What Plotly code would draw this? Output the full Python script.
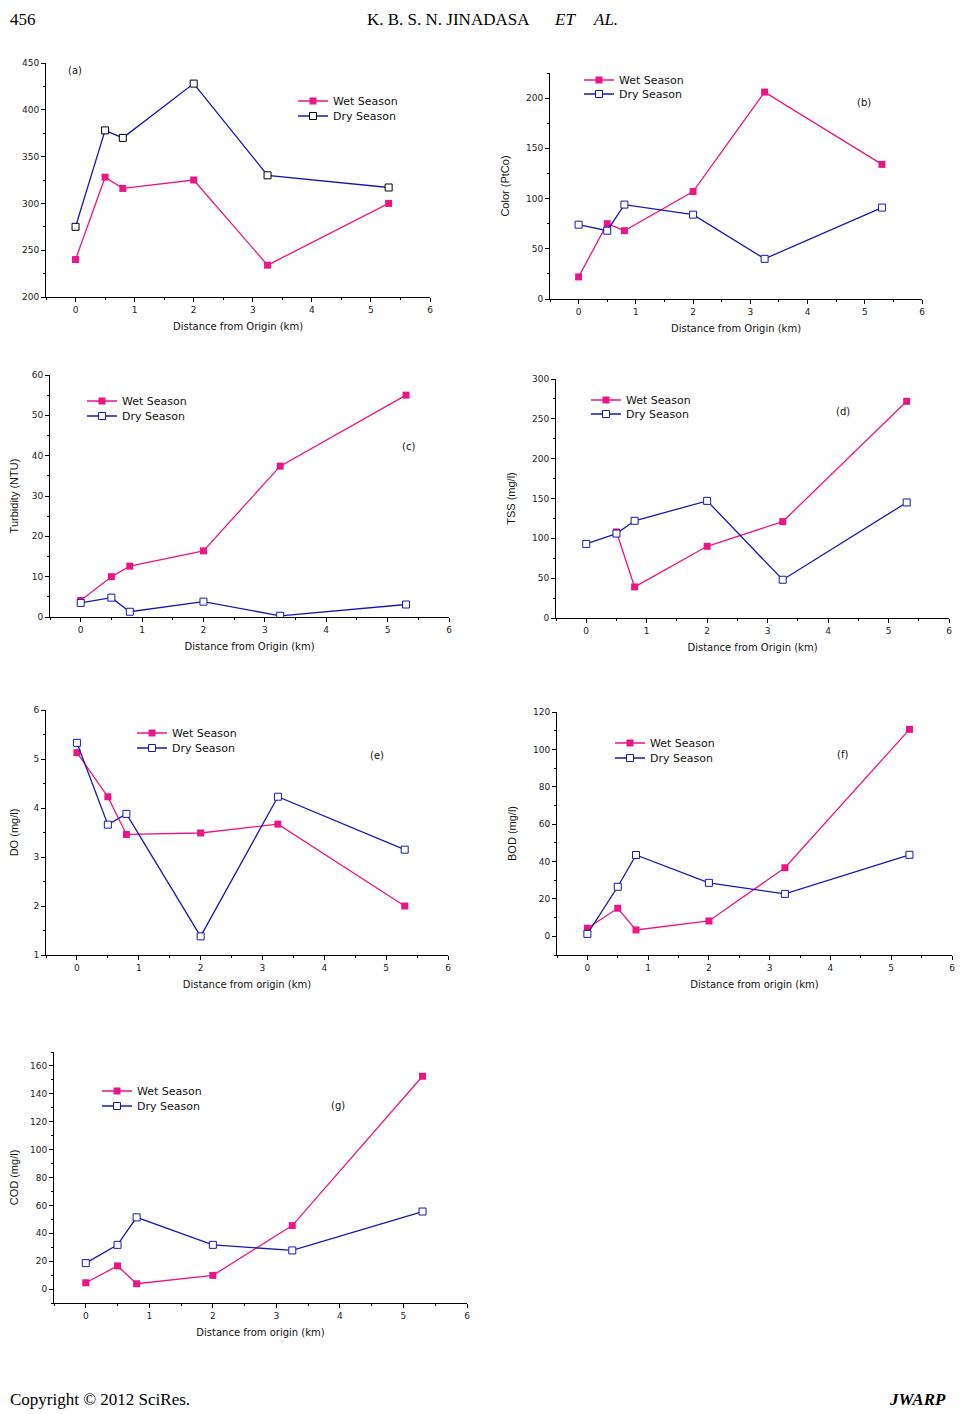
import plotly.graph_objects as go

W, H = 965, 1414
OFF = 8  # the page body margin shifts the figure by this much
FW, FH = W - OFF, H - OFF

# distance of sampling points from origin (km)
distance = [0, 0.5, 0.8, 2, 3.25, 5.3]

# (a) no y label in the source
a_wet = [240, 328, 316, 325, 234, 300]
a_dry = [275, 378, 370, 428, 330, 317]

# (b) colour (PtCo)
b_wet = [22, 75, 68, 107, 206, 134]
b_dry = [74, 68, 94, 84, 40, 91]

# (c) turbidity (NTU)
c_wet = [4.1, 10, 12.6, 16.4, 37.4, 55]
c_dry = [3.5, 4.8, 1.3, 3.8, 0.3, 3.1]

# (d) TSS (mg/l) - no wet value at the origin
d_wet = [None, 108, 39, 90, 121, 272]
d_dry = [93, 106, 122, 147, 48, 145]

# (e) DO (mg/l)
e_wet = [5.13, 4.23, 3.46, 3.49, 3.67, 2.0]
e_dry = [5.33, 3.66, 3.88, 1.38, 4.23, 3.15]

# (f) BOD (mg/l)
f_wet = [4.3, 15.0, 3.4, 8.2, 36.7, 110.7]
f_dry = [1.3, 26.5, 43.5, 28.6, 22.7, 43.6]

# (g) COD (mg/l)
g_wet = [4.5, 16.6, 3.8, 9.8, 45.5, 152.6]
g_dry = [18.6, 31.7, 51.4, 31.7, 27.7, 55.6]

WET = "#EC1585"
DRY = "#1818B0"


def fx(p):
    return (p - OFF) / FW


def fy(p):
    return 1 - (p - OFF) / FH


# key, wet, dry, y title, x title, y range, y dtick, plot box (x0, x1, ytop, ybottom),
# legend (line start x, wet row y, dry row y), panel label position
panels = [
    ("a", a_wet, a_dry, "", "Distance from Origin (km)", [200, 450], 50,
     (46, 430, 63, 297), (300, 101, 116), (75, 70)),
    ("b", b_wet, b_dry, "Color (PtCo)", "Distance from Origin (km)", [0, 225], 50,
     (550, 922, 73, 299), (586, 80, 94), (864, 102)),
    ("c", c_wet, c_dry, "Turbidity (NTU)", "Distance from Origin (km)", [0, 60], 10,
     (50, 449, 375, 617), (89, 401, 416), (408, 446)),
    ("d", d_wet, d_dry, "TSS (mg/l)", "Distance from Origin (km)", [0, 300], 50,
     (556, 949, 379, 618), (593, 400, 414), (843, 411)),
    ("e", e_wet, e_dry, "DO (mg/l)", "Distance from origin (km)", [1, 6], 1,
     (46, 448, 710, 955), (139, 733, 748), (377, 755)),
    ("f", f_wet, f_dry, "BOD (mg/l)", "Distance from origin (km)", [-10, 120], 20,
     (557, 952, 712, 955), (617, 743, 758), (842, 754)),
    ("g", g_wet, g_dry, "COD (mg/l)", "Distance from origin (km)", [-10, 170], 20,
     (54, 467, 1052, 1303), (104, 1091, 1106), (338, 1105)),
]

fig = go.Figure()
layout = {}
annotations = []
sans = "DejaVu Sans, Arial"
tickfont = dict(family=sans, size=9, color="#222")
xtitlefont = dict(family=sans, size=10, color="#111")
ytitlefont = dict(family="Liberation Sans, Arial", size=11, color="#111")
legfont = dict(family=sans, size=11, color="#111")

for i, (key, wet, dry, ytitle, xtitle, yrange, ydt, box, leg, lab) in enumerate(panels):
    n = "" if i == 0 else str(i + 1)
    leg_wet = "legend" + ("" if i == 0 else str(2 * i + 1))
    leg_dry = "legend" + str(2 * i + 2)
    dry_edge = "black" if key == "a" else DRY
    fig.add_trace(go.Scatter(
        x=distance, y=wet, name="Wet Season", mode="lines+markers",
        line=dict(color=WET, width=1.3), connectgaps=True,
        marker=dict(symbol="square", size=7, color=WET),
        xaxis="x" + n, yaxis="y" + n, legend=leg_wet))
    fig.add_trace(go.Scatter(
        x=distance, y=dry, name="Dry Season", mode="lines+markers",
        line=dict(color=DRY, width=1.3),
        marker=dict(symbol="square", size=7, color="white",
                    line=dict(color=dry_edge, width=1)),
        xaxis="x" + n, yaxis="y" + n, legend=leg_dry))

    x0, x1, yt, yb = box
    layout["xaxis" + n] = dict(
        domain=[fx(x0), fx(x1)], anchor="y" + n, range=[-0.5, 6], automargin=False,
        tick0=0, dtick=1, ticks="outside", ticklen=4, tickcolor="black",
        showline=True, linecolor="black", linewidth=1, showgrid=False, zeroline=False,
        minor=dict(ticks="outside", ticklen=2, dtick=0.5, tick0=0, tickcolor="black"),
        tickfont=tickfont,
        title=dict(text=xtitle, font=xtitlefont, standoff=9))
    layout["yaxis" + n] = dict(
        domain=[fy(yb), fy(yt)], anchor="x" + n, range=yrange, automargin=False,
        tick0=0, dtick=ydt, ticks="outside", ticklen=4, tickcolor="black",
        showline=True, linecolor="black", linewidth=1, showgrid=False, zeroline=False,
        minor=dict(ticks="outside", ticklen=2, dtick=ydt / 2, tick0=0, tickcolor="black"),
        tickfont=tickfont,
        title=dict(text=ytitle, font=ytitlefont, standoff=14))
    lx, wy, dy = leg
    for name, ry in ((leg_wet, wy), (leg_dry, dy)):
        layout[name] = dict(
            x=fx(lx - 7), y=fy(ry), xanchor="left", yanchor="middle",
            bgcolor="rgba(0,0,0,0)", itemwidth=30, font=legfont)
    annotations.append(dict(
        text="(" + key + ")", x=fx(lab[0]), y=fy(lab[1]), xref="paper", yref="paper",
        showarrow=False, xanchor="center", yanchor="middle",
        font=dict(family=sans, size=10, color="#111")))

serif = dict(family="Liberation Serif, Times New Roman", size=17, color="black")
header = [
    ("456", 8, 8, "left", "top"),
    ("K. B. S. N. JINADASA", 448, 8, "center", "top"),
    ("<i>ET</i>", 565, 8, "center", "top"),
    ("<i>AL.</i>", 605, 8, "center", "top"),
    ("Copyright © 2012 SciRes.", 8, 1399, "left", "middle"),
    ("<b><i>JWARP</i></b>", 948, 1399, "right", "middle"),
]
for text, px, py, xa, ya in header:
    annotations.append(dict(
        text=text, x=fx(px), y=fy(py), xref="paper", yref="paper",
        xanchor=xa, yanchor=ya, showarrow=False, font=serif))

fig.update_layout(
    template="none",
    width=FW, height=FH, margin=dict(l=0, r=0, t=0, b=0, autoexpand=False),
    paper_bgcolor="white", plot_bgcolor="white",
    showlegend=True, annotations=annotations, **layout)

fig.write_html("out.html")
